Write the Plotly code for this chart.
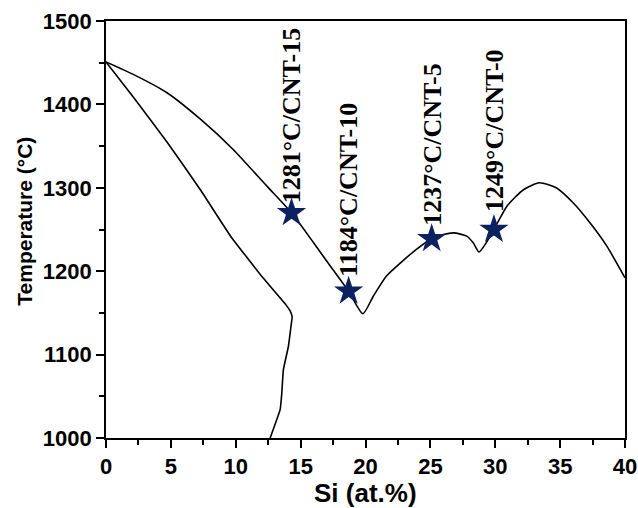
import plotly.graph_objects as go

# Liquidus (upper curve)
liq_x = [0.0, 2.1, 4.7, 7.3, 9.8, 12.4, 14.3, 16.0, 17.3, 18.7, 19.8, 20.6, 21.6, 22.7,
         23.9, 25.1, 26.0, 26.8, 27.8, 28.3, 28.75, 29.3, 29.9, 30.9, 32.2, 33.4, 34.7,
         36.0, 37.3, 38.6, 40.0]
liq_t = [1451, 1436, 1414, 1382, 1346, 1302, 1270, 1234, 1206, 1176, 1149, 1170, 1194, 1210,
         1226, 1239, 1244, 1246, 1242, 1234, 1223, 1234, 1250, 1278, 1298, 1306, 1300,
         1282, 1258, 1230, 1192]

# Solidus / solvus (lower curve)
sol_x = [0.0, 2.1, 4.7, 7.3, 9.6, 12.1, 13.9, 14.2, 14.35, 14.3, 14.06, 13.67, 13.55, 13.42, 12.65]
sol_t = [1451, 1409, 1355, 1297, 1242, 1192, 1159, 1152, 1145, 1139, 1110, 1082, 1054, 1034, 1000]

# Stars and labels
star_x = [14.3, 18.7, 25.1, 29.9]
star_t = [1270, 1176, 1239, 1250]
star_labels = ["1281°C/CNT-15", "1184°C/CNT-10", "1237°C/CNT-5", "1249°C/CNT-0"]
label_shift = [7, 12, 11, 16]

x_ticks = [0, 5, 10, 15, 20, 25, 30, 35, 40]
y_ticks = [1000, 1100, 1200, 1300, 1400, 1500]

fig = go.Figure()
fig.add_trace(go.Scatter(x=liq_x, y=liq_t, mode="lines",
                         line=dict(color="black", width=1.6, shape="spline", smoothing=0.6),
                         showlegend=False, hoverinfo="skip"))
fig.add_trace(go.Scatter(x=sol_x, y=sol_t, mode="lines",
                         line=dict(color="black", width=1.6, shape="spline", smoothing=0.3),
                         showlegend=False, hoverinfo="skip"))
fig.add_trace(go.Scatter(x=star_x, y=star_t, mode="markers",
                         marker=dict(symbol="star", size=22, color="#0b2160",
                                     line=dict(width=0)),
                         showlegend=False))

for sx, st, lab, sh in zip(star_x, star_t, star_labels, label_shift):
    fig.add_annotation(x=sx, y=st, text=lab, showarrow=False, textangle=-90,
                       xanchor="center", yanchor="bottom", yshift=sh,
                       font=dict(family="Liberation Serif, Times New Roman, serif",
                                 size=26, color="black", weight="bold"))

sans = "Liberation Sans, Arial, sans-serif"
axis_font = dict(family=sans, size=22, color="black", weight="bold")

# Axis titles as paper annotations for exact placement
fig.add_annotation(x=0.5, y=-0.131, xref="paper", yref="paper", text="Si (at.%)",
                   showarrow=False, xanchor="center", yanchor="middle",
                   font=dict(family=sans, size=26, color="black", weight="bold"))
fig.add_annotation(x=-0.157, y=0.52, xref="paper", yref="paper", text="Temperature (°C)",
                   showarrow=False, textangle=-90, xanchor="center", yanchor="middle",
                   font=dict(family=sans, size=21, color="black", weight="bold"))

fig.update_xaxes(range=[0, 40], tickvals=x_ticks, ticktext=[str(v) for v in x_ticks],
                 ticks="outside", ticklen=8, tickwidth=1.5, tickcolor="black",
                 minor=dict(dtick=2.5, ticks="outside", ticklen=5, tickwidth=1.5, tickcolor="black"),
                 showline=True, linecolor="black", linewidth=1.8, mirror=True,
                 showgrid=False, zeroline=False, tickfont=axis_font, automargin=False)
fig.update_yaxes(range=[1000, 1500], tickvals=y_ticks, ticktext=[str(v) for v in y_ticks],
                 ticks="outside", ticklen=8, tickwidth=1.5, tickcolor="black",
                 minor=dict(dtick=50, ticks="outside", ticklen=5, tickwidth=1.5, tickcolor="black"),
                 showline=True, linecolor="black", linewidth=1.8, mirror=True,
                 showgrid=False, zeroline=False, tickfont=axis_font, automargin=False)

fig.update_layout(width=638, height=508, margin=dict(l=106, r=13, t=21, b=70, autoexpand=False),
                  plot_bgcolor="white", paper_bgcolor="white")

# Remove the default 8px page margin so the figure fills the window exactly
fig.write_html("out.html",
               config={"displayModeBar": False},
               post_script="document.body.style.margin='0';"
                           "document.documentElement.style.overflow='hidden';")
